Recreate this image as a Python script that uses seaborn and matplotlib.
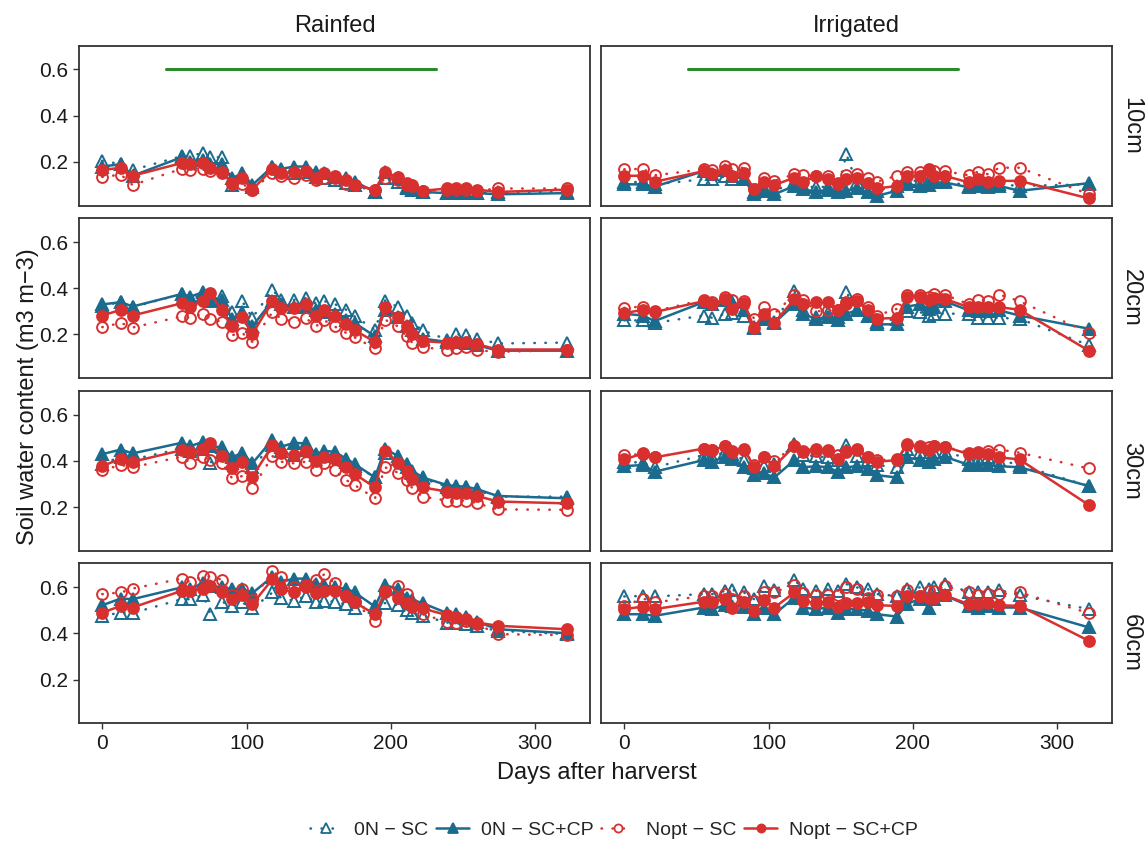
import matplotlib
matplotlib.use("Agg")
import matplotlib.pyplot as plt
from matplotlib.lines import Line2D
import pandas as pd
import seaborn as sns

# Sampling dates (days after harvest)
days = [0, 13, 21, 55, 61, 70, 75, 83, 90, 97, 104, 118, 124, 133, 141, 148,
        154, 161, 169, 175, 189, 196, 205, 211, 215, 222, 239, 245, 252, 260, 274, 322]

systems = ["Rainfed", "Irrigated"]
depths = ["10cm", "20cm", "30cm", "60cm"]
treatments = ["0N \u2212 SC", "0N \u2212 SC+CP", "Nopt \u2212 SC", "Nopt \u2212 SC+CP"]

# Cover crop growing period
cc_start, cc_end, cc_level = 44, 231, 0.6

# ---- Rainfed ----
rf10_0n_sc = [0.205, 0.19, 0.165, 0.225, 0.225, 0.24, 0.22, 0.22, 0.10, 0.14, 0.09, 0.18, 0.16, 0.15, 0.155, 0.135,
              0.13, 0.12, 0.11, 0.10, 0.07, 0.13, 0.115, 0.085, 0.08, 0.07, 0.065, 0.065, 0.065, 0.065, 0.07, 0.07]
rf10_0n_sccp = [0.18, 0.19, 0.14, 0.22, 0.20, 0.21, 0.19, 0.19, 0.13, 0.15, 0.10, 0.18, 0.17, 0.18, 0.18, 0.155,
                0.15, 0.135, 0.13, 0.115, 0.07, 0.155, 0.13, 0.09, 0.08, 0.07, 0.065, 0.065, 0.065, 0.065, 0.06, 0.065]
rf10_nopt_sc = [0.135, 0.145, 0.10, 0.17, 0.165, 0.17, 0.16, 0.15, 0.11, 0.105, 0.08, 0.15, 0.14, 0.13, 0.145, 0.12,
                0.13, 0.13, 0.105, 0.10, 0.08, 0.13, 0.12, 0.10, 0.095, 0.075, 0.08, 0.08, 0.08, 0.075, 0.085, 0.085]
rf10_nopt_sccp = [0.165, 0.175, 0.14, 0.195, 0.19, 0.195, 0.175, 0.155, 0.105, 0.13, 0.08, 0.17, 0.15, 0.155, 0.16, 0.13,
                  0.15, 0.14, 0.12, 0.10, 0.08, 0.155, 0.135, 0.11, 0.10, 0.075, 0.085, 0.085, 0.085, 0.08, 0.07, 0.08]

rf20_0n_sc = [0.325, 0.34, 0.318, 0.375, 0.354, 0.373, 0.347, 0.368, 0.297, 0.344, 0.272, 0.393, 0.351, 0.35, 0.358, 0.335,
              0.344, 0.332, 0.307, 0.278, 0.221, 0.347, 0.318, 0.282, 0.25, 0.218, 0.178, 0.201, 0.197, 0.182, 0.161, 0.165]
rf20_0n_sccp = [0.33, 0.34, 0.321, 0.375, 0.364, 0.383, 0.35, 0.35, 0.268, 0.297, 0.235, 0.347, 0.332, 0.318, 0.321, 0.307,
                0.297, 0.29, 0.261, 0.25, 0.192, 0.304, 0.275, 0.235, 0.218, 0.182, 0.168, 0.168, 0.164, 0.154, 0.13, 0.13]
rf20_nopt_sc = [0.232, 0.25, 0.23, 0.278, 0.272, 0.29, 0.268, 0.254, 0.197, 0.207, 0.168, 0.297, 0.268, 0.254, 0.272, 0.235,
                0.261, 0.235, 0.207, 0.187, 0.14, 0.264, 0.235, 0.192, 0.164, 0.144, 0.135, 0.14, 0.144, 0.132, 0.125, 0.132]
rf20_nopt_sccp = [0.282, 0.307, 0.282, 0.335, 0.321, 0.347, 0.378, 0.304, 0.235, 0.275, 0.201, 0.347, 0.315, 0.315, 0.33, 0.278,
                  0.304, 0.282, 0.244, 0.218, 0.168, 0.321, 0.275, 0.235, 0.201, 0.172, 0.164, 0.168, 0.168, 0.158, 0.135, 0.135]

rf30_0n_sc = [0.386, 0.418, 0.406, 0.453, 0.443, 0.453, 0.392, 0.439, 0.389, 0.403, 0.374, 0.468, 0.443, 0.425, 0.446, 0.425,
              0.425, 0.42, 0.396, 0.377, 0.331, 0.432, 0.41, 0.374, 0.349, 0.324, 0.288, 0.288, 0.285, 0.271, 0.245, 0.245]
rf30_0n_sccp = [0.429, 0.449, 0.432, 0.478, 0.464, 0.482, 0.464, 0.458, 0.415, 0.435, 0.389, 0.492, 0.461, 0.478, 0.475, 0.429,
                0.443, 0.439, 0.41, 0.386, 0.328, 0.453, 0.42, 0.386, 0.357, 0.328, 0.295, 0.291, 0.288, 0.277, 0.248, 0.238]
rf30_nopt_sc = [0.36, 0.382, 0.372, 0.418, 0.392, 0.418, 0.403, 0.392, 0.324, 0.334, 0.281, 0.42, 0.396, 0.389, 0.396, 0.36,
                0.389, 0.36, 0.317, 0.295, 0.238, 0.372, 0.349, 0.317, 0.281, 0.245, 0.228, 0.228, 0.228, 0.216, 0.19, 0.188]
rf30_nopt_sccp = [0.377, 0.41, 0.396, 0.446, 0.439, 0.453, 0.475, 0.42, 0.367, 0.396, 0.331, 0.468, 0.432, 0.425, 0.443, 0.40,
                  0.415, 0.406, 0.372, 0.343, 0.285, 0.443, 0.392, 0.357, 0.32, 0.285, 0.267, 0.262, 0.26, 0.248, 0.224, 0.216]

rf60_0n_sc = [0.476, 0.49, 0.488, 0.548, 0.548, 0.565, 0.483, 0.537, 0.519, 0.534, 0.508, 0.577, 0.555, 0.541, 0.562, 0.534,
              0.541, 0.537, 0.526, 0.508, 0.519, 0.531, 0.522, 0.502, 0.488, 0.476, 0.447, 0.444, 0.44, 0.43, 0.411, 0.397]
rf60_0n_sccp = [0.522, 0.551, 0.548, 0.599, 0.591, 0.62, 0.606, 0.599, 0.591, 0.594, 0.574, 0.646, 0.623, 0.637, 0.637, 0.613,
                0.608, 0.599, 0.594, 0.577, 0.516, 0.608, 0.594, 0.555, 0.545, 0.531, 0.488, 0.483, 0.469, 0.45, 0.418, 0.401]
rf60_nopt_sc = [0.57, 0.577, 0.594, 0.637, 0.623, 0.649, 0.646, 0.632, 0.565, 0.594, 0.545, 0.67, 0.642, 0.60, 0.61, 0.632,
                0.656, 0.617, 0.562, 0.534, 0.454, 0.585, 0.603, 0.57, 0.526, 0.483, 0.45, 0.444, 0.454, 0.44, 0.397, 0.392]
rf60_nopt_sccp = [0.49, 0.519, 0.512, 0.584, 0.584, 0.594, 0.603, 0.577, 0.548, 0.565, 0.526, 0.635, 0.591, 0.577, 0.599, 0.574,
                  0.584, 0.584, 0.562, 0.534, 0.483, 0.58, 0.555, 0.531, 0.516, 0.508, 0.479, 0.469, 0.462, 0.447, 0.433, 0.418]

# ---- Irrigated ----
ir10_0n_sc = [0.111, 0.114, 0.103, 0.125, 0.125, 0.137, 0.128, 0.125, 0.07, 0.085, 0.075, 0.111, 0.096, 0.09, 0.093, 0.082,
              0.233, 0.111, 0.096, 0.075, 0.096, 0.118, 0.118, 0.118, 0.118, 0.118, 0.096, 0.114, 0.108, 0.103, 0.096, 0.103]
ir10_0n_sccp = [0.103, 0.103, 0.093, 0.16, 0.147, 0.165, 0.14, 0.125, 0.06, 0.075, 0.06, 0.096, 0.082, 0.07, 0.08, 0.07,
                0.075, 0.085, 0.068, 0.053, 0.075, 0.103, 0.096, 0.10, 0.111, 0.111, 0.09, 0.096, 0.09, 0.096, 0.075, 0.108]
ir10_nopt_sc = [0.168, 0.17, 0.142, 0.168, 0.165, 0.183, 0.17, 0.175, 0.082, 0.132, 0.118, 0.147, 0.142, 0.14, 0.137, 0.11,
                0.142, 0.147, 0.132, 0.114, 0.14, 0.157, 0.157, 0.165, 0.16, 0.16, 0.142, 0.157, 0.147, 0.175, 0.175, 0.06]
ir10_nopt_sccp = [0.14, 0.14, 0.114, 0.16, 0.147, 0.165, 0.14, 0.154, 0.082, 0.111, 0.10, 0.132, 0.114, 0.137, 0.125, 0.103,
                  0.125, 0.132, 0.108, 0.085, 0.096, 0.137, 0.14, 0.168, 0.14, 0.14, 0.111, 0.125, 0.114, 0.118, 0.118, 0.042]

ir20_0n_sc = [0.261, 0.261, 0.25, 0.282, 0.272, 0.29, 0.292, 0.282, 0.232, 0.268, 0.254, 0.387, 0.304, 0.275, 0.292, 0.275,
              0.383, 0.304, 0.278, 0.254, 0.268, 0.301, 0.297, 0.282, 0.29, 0.29, 0.29, 0.272, 0.272, 0.272, 0.268, 0.154]
ir20_0n_sccp = [0.29, 0.282, 0.258, 0.34, 0.332, 0.35, 0.34, 0.304, 0.23, 0.268, 0.25, 0.33, 0.287, 0.268, 0.275, 0.264,
                0.29, 0.304, 0.278, 0.244, 0.244, 0.321, 0.33, 0.311, 0.321, 0.344, 0.304, 0.301, 0.301, 0.304, 0.282, 0.225]
ir20_nopt_sc = [0.315, 0.321, 0.301, 0.35, 0.34, 0.361, 0.35, 0.347, 0.268, 0.321, 0.29, 0.373, 0.35, 0.30, 0.304, 0.304,
                0.34, 0.354, 0.321, 0.282, 0.311, 0.373, 0.373, 0.361, 0.376, 0.373, 0.33, 0.35, 0.347, 0.373, 0.344, 0.207]
ir20_nopt_sccp = [0.292, 0.307, 0.297, 0.344, 0.33, 0.354, 0.311, 0.335, 0.23, 0.29, 0.25, 0.354, 0.33, 0.34, 0.34, 0.307,
                  0.332, 0.347, 0.304, 0.268, 0.272, 0.364, 0.364, 0.35, 0.358, 0.354, 0.318, 0.318, 0.318, 0.318, 0.307, 0.13]

ir30_0n_sc = [0.396, 0.392, 0.372, 0.425, 0.418, 0.439, 0.429, 0.403, 0.367, 0.377, 0.386, 0.472, 0.425, 0.42, 0.415, 0.403,
              0.468, 0.42, 0.403, 0.382, 0.372, 0.453, 0.439, 0.425, 0.439, 0.443, 0.406, 0.406, 0.415, 0.403, 0.382, 0.291]
ir30_0n_sccp = [0.377, 0.382, 0.353, 0.403, 0.396, 0.418, 0.41, 0.374, 0.338, 0.346, 0.328, 0.403, 0.372, 0.377, 0.372, 0.353,
                0.372, 0.377, 0.363, 0.338, 0.328, 0.415, 0.403, 0.396, 0.406, 0.418, 0.382, 0.382, 0.382, 0.377, 0.372, 0.291]
ir30_nopt_sc = [0.425, 0.429, 0.415, 0.453, 0.446, 0.464, 0.443, 0.446, 0.382, 0.418, 0.40, 0.464, 0.439, 0.443, 0.446, 0.425,
                0.443, 0.446, 0.415, 0.403, 0.406, 0.468, 0.464, 0.458, 0.464, 0.461, 0.435, 0.439, 0.443, 0.449, 0.435, 0.367]
ir30_nopt_sccp = [0.406, 0.432, 0.415, 0.453, 0.446, 0.464, 0.439, 0.453, 0.372, 0.418, 0.377, 0.464, 0.443, 0.453, 0.443, 0.41,
                  0.439, 0.453, 0.415, 0.396, 0.403, 0.472, 0.461, 0.446, 0.464, 0.461, 0.429, 0.432, 0.429, 0.415, 0.406, 0.209]

ir60_0n_sc = [0.56, 0.562, 0.56, 0.57, 0.57, 0.584, 0.588, 0.577, 0.548, 0.606, 0.588, 0.632, 0.591, 0.584, 0.591, 0.584,
              0.613, 0.599, 0.591, 0.57, 0.562, 0.594, 0.599, 0.591, 0.599, 0.613, 0.58, 0.577, 0.577, 0.588, 0.565, 0.505]
ir60_0n_sccp = [0.483, 0.483, 0.476, 0.512, 0.505, 0.522, 0.519, 0.516, 0.483, 0.508, 0.483, 0.555, 0.512, 0.505, 0.512, 0.49,
                0.505, 0.505, 0.498, 0.483, 0.473, 0.526, 0.551, 0.512, 0.548, 0.565, 0.519, 0.512, 0.519, 0.512, 0.512, 0.426]
ir60_nopt_sc = [0.519, 0.551, 0.534, 0.562, 0.56, 0.57, 0.548, 0.562, 0.541, 0.577, 0.58, 0.608, 0.574, 0.565, 0.565, 0.565,
                0.599, 0.591, 0.555, 0.565, 0.562, 0.588, 0.562, 0.584, 0.584, 0.603, 0.58, 0.565, 0.57, 0.57, 0.577, 0.488]
ir60_nopt_sccp = [0.505, 0.516, 0.505, 0.537, 0.537, 0.548, 0.512, 0.537, 0.498, 0.545, 0.512, 0.577, 0.541, 0.531, 0.537, 0.516,
                  0.531, 0.531, 0.534, 0.522, 0.519, 0.56, 0.562, 0.555, 0.555, 0.565, 0.526, 0.526, 0.531, 0.522, 0.519, 0.368]

series = {
    ("Rainfed", "10cm"): [rf10_0n_sc, rf10_0n_sccp, rf10_nopt_sc, rf10_nopt_sccp],
    ("Rainfed", "20cm"): [rf20_0n_sc, rf20_0n_sccp, rf20_nopt_sc, rf20_nopt_sccp],
    ("Rainfed", "30cm"): [rf30_0n_sc, rf30_0n_sccp, rf30_nopt_sc, rf30_nopt_sccp],
    ("Rainfed", "60cm"): [rf60_0n_sc, rf60_0n_sccp, rf60_nopt_sc, rf60_nopt_sccp],
    ("Irrigated", "10cm"): [ir10_0n_sc, ir10_0n_sccp, ir10_nopt_sc, ir10_nopt_sccp],
    ("Irrigated", "20cm"): [ir20_0n_sc, ir20_0n_sccp, ir20_nopt_sc, ir20_nopt_sccp],
    ("Irrigated", "30cm"): [ir30_0n_sc, ir30_0n_sccp, ir30_nopt_sc, ir30_nopt_sccp],
    ("Irrigated", "60cm"): [ir60_0n_sc, ir60_0n_sccp, ir60_nopt_sc, ir60_nopt_sccp],
}

rows = []
for (system, depth), values in series.items():
    for trt, vals in zip(treatments, values):
        for d, v in zip(days, vals):
            rows.append({"system": system, "depth": depth, "treatment": trt, "day": d, "swc": v})
df = pd.DataFrame(rows)

blue = "#1a6b8d"
red = "#d7302f"
green = "#2b8a2b"
dotted = (0, (0.2, 4.2))
styles = {
    treatments[0]: dict(color=blue, marker="^", mfc="none", ls=dotted, ms=9),
    treatments[1]: dict(color=blue, marker="^", mfc=blue, ls="-", ms=9),
    treatments[2]: dict(color=red, marker="o", mfc="none", ls=dotted, ms=7.8),
    treatments[3]: dict(color=red, marker="o", mfc=red, ls="-", ms=7.8),
}

sns.set_theme(style="white")
plt.rcParams["font.family"] = ["Liberation Sans", "DejaVu Sans"]
plt.rcParams["axes.unicode_minus"] = True

fig, axes = plt.subplots(4, 2, figsize=(11.47, 8.44), dpi=100, sharex=True, sharey=True)
fig.subplots_adjust(left=0.0689, right=0.9695, top=0.9459, bottom=0.1430,
                    wspace=0.0215, hspace=0.079)

for j, system in enumerate(systems):
    for i, depth in enumerate(depths):
        ax = axes[i, j]
        panel = df[(df.system == system) & (df.depth == depth)]
        for trt in treatments:
            st = styles[trt]
            sub = panel[panel.treatment == trt]
            sns.lineplot(data=sub, x="day", y="swc", ax=ax, estimator=None, legend=False,
                         color=st["color"], linestyle=st["ls"], linewidth=1.8,
                         marker=st["marker"], markersize=st["ms"],
                         markerfacecolor=st["mfc"], markeredgecolor=st["color"],
                         markeredgewidth=1.4, dash_capstyle="round")
        if i == 0:
            sns.lineplot(x=[cc_start, cc_end], y=[cc_level, cc_level], ax=ax, color=green,
                         linewidth=2.2, legend=False)
            ax.text(0.5, 1.12, system, transform=ax.transAxes, ha="center", va="center",
                    fontsize=17, color="#1a1a1a")
        if j == 1:
            ax.text(1.037, 0.5, depth, transform=ax.transAxes, ha="center", va="center",
                    rotation=-90, fontsize=17, color="#1a1a1a")
        ax.set_xlim(-16.1, 338.1)
        ax.set_ylim(0.011, 0.703)
        ax.set_xticks([0, 100, 200, 300])
        ax.set_yticks([0.2, 0.4, 0.6])
        ax.set_xlabel("")
        ax.set_ylabel("")
        for s in ax.spines.values():
            s.set_color("#333333")
            s.set_linewidth(1.3)
        ax.tick_params(axis="both", which="both", direction="out", length=4, width=1,
                       color="#333333", labelsize=15, labelcolor="#1a1a1a", pad=4,
                       bottom=(i == 3), left=(j == 0))
        ax.grid(False)

fig.text(0.0244, 0.530, "Soil water content (m3 m\u22123)", rotation=90, ha="center",
         va="center", fontsize=17, color="#1a1a1a")
fig.text(0.5200, 0.0840, "Days after harverst", ha="center", va="center", fontsize=17,
         color="#1a1a1a")

handles = []
for trt in treatments:
    st = styles[trt]
    handles.append(Line2D([0], [0], color=st["color"], linestyle=st["ls"], linewidth=1.8,
                          marker=st["marker"], markersize=st["ms"] - 2, markerfacecolor=st["mfc"],
                          markeredgecolor=st["color"], markeredgewidth=1.3, dash_capstyle="round"))
fig.legend(handles, treatments, loc="center", bbox_to_anchor=(0.535, 0.0165), ncol=4,
           frameon=False, fontsize=14, handlelength=1.7, handletextpad=0.6, columnspacing=0.4)

fig.savefig("out.png", dpi=100, facecolor="white")
